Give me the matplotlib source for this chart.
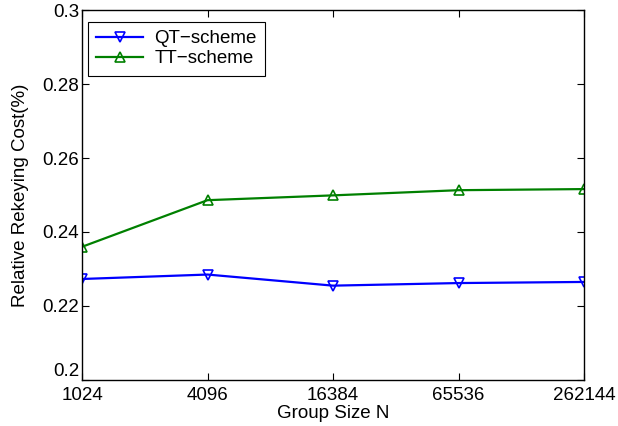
import matplotlib
matplotlib.use('Agg')
import matplotlib.pyplot as plt

plt.rcParams['font.family'] = ['Liberation Sans', 'DejaVu Sans']

group_sizes = ['1024', '4096', '16384', '65536', '262144']
qt_scheme = [0.2273, 0.2285, 0.2255, 0.2262, 0.2265]
tt_scheme = [0.2360, 0.2486, 0.2499, 0.2513, 0.2516]
y_ticks = [0.2, 0.22, 0.24, 0.26, 0.28, 0.3]

fig = plt.figure(figsize=(6.18, 4.26), dpi=100)
ax = fig.add_axes([0.1327, 0.108, 0.8123, 0.8685])

x = list(range(len(group_sizes)))
ax.plot(x, qt_scheme, color='#0000ff', marker='v', markersize=7,
        markerfacecolor='none', markeredgewidth=1.2, linewidth=1.6, label='QT\u2212scheme')
ax.plot(x, tt_scheme, color='#008000', marker='^', markersize=7,
        markerfacecolor='none', markeredgewidth=1.2, linewidth=1.6, label='TT\u2212scheme')

ax.set_xlim(0, len(group_sizes) - 1)
ax.set_ylim(0.2, 0.3)
ax.set_xticks(x)
ax.set_xticklabels(group_sizes)
ax.set_yticks(y_ticks)
ax.set_yticklabels(['0.2', '0.22', '0.24', '0.26', '0.28', '0.3'])
ax.tick_params(direction='in', top=True, right=True, labelsize=13.5, length=5)
ax.tick_params(axis='x', pad=5)
ax.tick_params(axis='y', pad=2)
# bottom y label sits a bit above its tick, like the original
ax.get_yticklabels()[0].set_va('bottom')
for s in ax.spines.values():
    s.set_linewidth(1.0)

ax.set_xlabel('Group Size N', fontsize=13.5, labelpad=1)
ax.set_ylabel('Relative Rekeying Cost(%)', fontsize=13.5, labelpad=10)

leg = ax.legend(loc='upper left', fontsize=13.5, fancybox=False, edgecolor='black',
                framealpha=1, handlelength=2.5, handletextpad=0.6, borderpad=0.45,
                labelspacing=0.15, borderaxespad=0, bbox_to_anchor=(0.012, 0.968))
leg.get_frame().set_linewidth(0.8)

fig.savefig('out.png', dpi=100)
